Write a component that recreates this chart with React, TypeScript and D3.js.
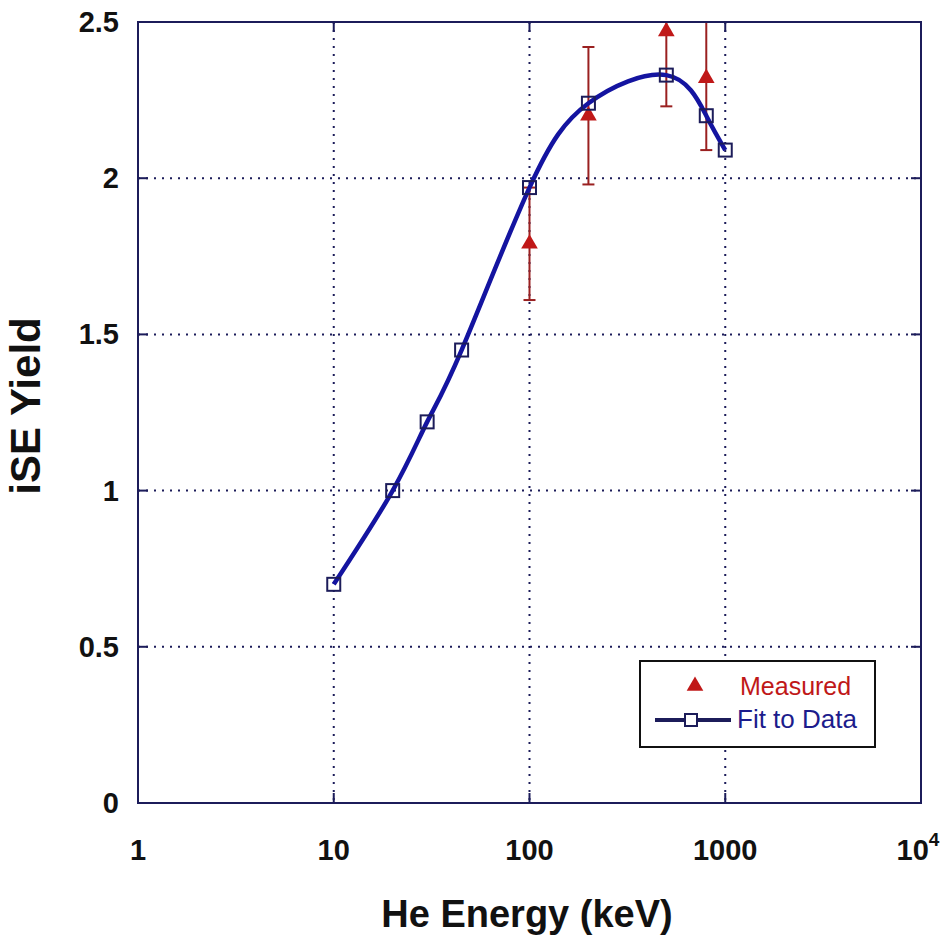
import React from "react";
import * as d3 from "d3";

const fitEnergy = [10, 20, 30, 45, 100, 200, 500, 800, 1000];
const fitYield = [0.7, 1.0, 1.22, 1.45, 1.97, 2.24, 2.33, 2.2, 2.09];
const measEnergy = [100, 200, 500, 800];
const measYield = [1.79, 2.2, 2.47, 2.32];
const measErr = [0.18, 0.22, 0.24, 0.23];
const xTicks = [1, 10, 100, 1000, 10000];
const yTicks = [0, 0.5, 1, 1.5, 2, 2.5];

const W = 943, H = 943;
const L = 138, R = 921, T = 22, B = 803;
const FRAME = "#1c1c5a";
const LINE = "#1414a0";
const RED = "#c01818";
const ERR = "#9a2020";

export default function App() {
  const x = d3.scaleLog().domain([1, 10000]).range([L, R]);
  const y = d3.scaleLinear().domain([0, 2.5]).range([B, T]);
  const fitPts: [number, number][] = fitEnergy.map((e, i) => [x(e), y(fitYield[i])]);
  const line = d3.line().curve(d3.curveNatural)(fitPts) || "";
  const tri = d3.symbol().type(d3.symbolTriangle).size(120)() || "";
  const font = "'Liberation Sans', Arial, sans-serif";

  return (
    <svg width={W} height={H} style={{ position: "absolute", left: 0, top: 0, background: "#fff" }}>
      <defs>
        <clipPath id="plot">
          <rect x={L} y={T} width={R - L} height={B - T} />
        </clipPath>
      </defs>
      {xTicks.slice(1, -1).map((t) => (
        <line key={"gx" + t} x1={x(t)} x2={x(t)} y1={T} y2={B} stroke={FRAME} strokeWidth={2} strokeDasharray="2,6" />
      ))}
      {yTicks.slice(1, -1).map((t) => (
        <line key={"gy" + t} x1={L} x2={R} y1={y(t)} y2={y(t)} stroke={FRAME} strokeWidth={2} strokeDasharray="2,6" />
      ))}
      {xTicks.slice(1, -1).map((t) => (
        <g key={"tx" + t}>
          <line x1={x(t)} x2={x(t)} y1={B} y2={B - 10} stroke={FRAME} strokeWidth={2} />
          <line x1={x(t)} x2={x(t)} y1={T} y2={T + 10} stroke={FRAME} strokeWidth={2} />
        </g>
      ))}
      {yTicks.slice(1, -1).map((t) => (
        <g key={"ty" + t}>
          <line x1={L} x2={L + 10} y1={y(t)} y2={y(t)} stroke={FRAME} strokeWidth={2} />
          <line x1={R} x2={R - 10} y1={y(t)} y2={y(t)} stroke={FRAME} strokeWidth={2} />
        </g>
      ))}
      <g clipPath="url(#plot)">
        {measEnergy.map((e, i) => {
          const cx = x(e);
          const y1 = y(measYield[i] + measErr[i]);
          const y2 = y(measYield[i] - measErr[i]);
          return (
            <g key={"e" + e} stroke={ERR} strokeWidth={2}>
              <line x1={cx} x2={cx} y1={y1} y2={y2} />
              <line x1={cx - 6} x2={cx + 6} y1={y1} y2={y1} />
              <line x1={cx - 6} x2={cx + 6} y1={y2} y2={y2} />
            </g>
          );
        })}
        {measEnergy.map((e, i) => (
          <path key={"m" + e} d={tri} transform={`translate(${x(e)},${y(measYield[i])})`} fill={RED} />
        ))}
        <path d={line} fill="none" stroke={LINE} strokeWidth={4.5} />
        {fitPts.map(([px, py], i) => (
          <rect key={"s" + i} x={px - 6.5} y={py - 6.5} width={13} height={13} fill="none" stroke={FRAME} strokeWidth={2} />
        ))}
      </g>
      <rect x={L} y={T} width={R - L} height={B - T} fill="none" stroke={FRAME} strokeWidth={2} />
      {yTicks.map((t) => (
        <text key={"ly" + t} x={119} y={y(t) + 10} textAnchor="end" fontFamily={font} fontWeight="bold" fontSize={29} fill="#111">
          {String(t)}
        </text>
      ))}
      {xTicks.slice(0, -1).map((t) => (
        <text key={"lx" + t} x={x(t)} y={860} textAnchor="middle" fontFamily={font} fontWeight="bold" fontSize={29} fill="#111">
          {String(t)}
        </text>
      ))}
      <text x={x(10000) - 3} y={860} textAnchor="middle" fontFamily={font} fontWeight="bold" fontSize={29} fill="#111">
        10
        <tspan dy={-14} fontSize={19}>4</tspan>
      </text>
      <text x={527} y={927} textAnchor="middle" fontFamily={font} fontWeight="bold" fontSize={38} fill="#111">
        He Energy (keV)
      </text>
      <text transform={`translate(40,406) rotate(-90)`} textAnchor="middle" fontFamily={font} fontWeight="bold" fontSize={42} fill="#111">
        iSE Yield
      </text>
      <rect x={640} y={661} width={235} height={86} fill="#fff" stroke="#111" strokeWidth={2} />
      <path d={tri} transform="translate(695,686)" fill={RED} />
      <text x={740} y={695} fontFamily={font} fontSize={25} fill={RED}>Measured</text>
      <line x1={655} x2={731} y1={720} y2={720} stroke={FRAME} strokeWidth={4} />
      <rect x={685} y={714} width={12} height={12} fill="#fff" stroke={FRAME} strokeWidth={2} />
      <text x={737} y={728} fontFamily={font} fontSize={26} fill="#1c1c8c">Fit to Data</text>
    </svg>
  );
}
